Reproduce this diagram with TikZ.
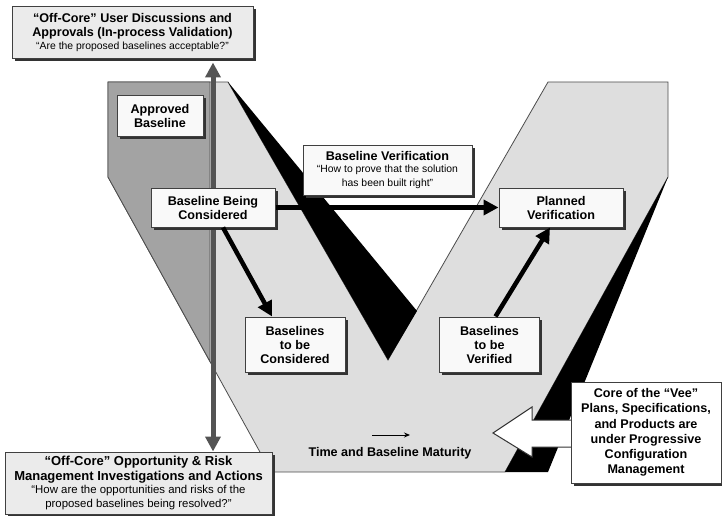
\documentclass[tikz,border=0pt]{standalone}
\usepackage{fontspec}
\setmainfont{Liberation Sans}
\usetikzlibrary{arrows.meta,shadows}
\definecolor{veegray}{gray}{0.87}
\definecolor{armgray}{gray}{0.64}
\definecolor{boxfill}{gray}{0.975}
\definecolor{offfill}{gray}{0.92}
\definecolor{rodgray}{gray}{0.33}
\newcommand\bigtxt{\fontsize{12.6}{14}\selectfont\bfseries}
\newcommand\smalltxt{\fontsize{10.4}{12}\selectfont\mdseries}
\newcommand\smallertxt{\fontsize{11.4}{12}\selectfont\mdseries}
\tikzset{
  labelbox/.style={draw=black!75, line width=1pt, fill=boxfill, align=center,
    inner sep=1pt, font=\bigtxt,
    drop shadow={shadow xshift=2.5pt, shadow yshift=-2.5pt, opacity=1, fill=black!80}},
  offbox/.style={labelbox, fill=offfill},
  veeline/.style={draw=black!70, line width=0.8pt},
  bigarrow/.style={line width=4.5pt, -{Triangle[length=15pt,width=15pt]}},
  rod/.style={rodgray, line width=5pt, {Triangle[length=15pt,width=15pt]}-{Triangle[length=15pt,width=15pt]}}
}
\begin{document}
\begin{tikzpicture}[x=1pt,y=-1pt]
  \useasboundingbox (0,0) rectangle (722,516);
  % the vee
  \filldraw[veeline, fill=veegray] (108,82) -- (228,82) -- (388,360) -- (548,82)
    -- (668,82) -- (668,177) -- (505,472) -- (271,472) -- (108,177) -- cycle;
  \filldraw[veeline, fill=armgray] (108,82) -- (210,82) -- (210,361.5) -- (108,177) -- cycle;
  \fill[black] (228,82) -- (417,311) -- (388,360) -- cycle;
  \fill[black] (668,177) -- (548,472) -- (505,472) -- cycle;

  % off-core boxes
  \node[offbox, minimum width=241pt, minimum height=52pt] (userbox) at (132.5,33)
    {“Off-Core” User Discussions and\\Approvals (In-process Validation)\\[-1pt]
     \smalltxt “Are the proposed baselines acceptable?”};
  \node[offbox, minimum width=267pt, minimum height=62pt,
    font=\fontsize{13}{14}\selectfont\bfseries] (riskbox) at (138.5,483)
    {“Off-Core” Opportunity \& Risk\\[1pt]Management Investigations and Actions\\[-1pt]
     \smallertxt “How are the opportunities and risks of the\\
     \smallertxt proposed baselines being resolved?”};
  \coordinate (vx) at (213,0);
  \draw[rod] ([yshift=-3pt]userbox.south -| vx) -- (riskbox.north -| vx);

  % baselines
  \node[labelbox, minimum width=86pt, minimum height=40pt] (approved) at (160,116)
    {Approved\\Baseline};
  \node[labelbox, minimum width=124pt, minimum height=39pt] (being) at (213,207.5)
    {Baseline Being\\Considered};
  \node[labelbox, minimum width=124pt, minimum height=39pt] (planned) at (561,207.5)
    {Planned\\Verification};
  \node[labelbox, minimum width=169pt, minimum height=50pt] (verif) at (387.5,170)
    {Baseline Verification\\[-2pt]\smalltxt “How to prove that the solution\\
     \smalltxt has been built right”};
  \foreach \x/\n/\t in {295/tobecons/Considered, 489.5/tobever/Verified} {
    \node[labelbox, minimum width=100pt, minimum height=55pt] (\n) at (\x,344.5)
      {Baselines\\to be\\\t};
  }
  \draw[bigarrow] (being) -- (planned);
  \draw[bigarrow] ([xshift=10pt]being.south) -- ([xshift=-23pt]tobecons.north);
  \draw[bigarrow] ([xshift=6pt]tobever.north) -- ([xshift=-11pt]planned.south);

  % time
  \node[font=\bigtxt] (time) at (390,453) {Time and Baseline Maturity};
  \coordinate (t0) at (372,435);
  \coordinate (t1) at (410,435);
  \draw[line width=0.9pt, -{Stealth[length=6pt,width=5pt]}] (t0) -- (t1);

  % core of the vee
  \filldraw[draw=black!80, line width=1pt, fill=white] (493,433) -- (532,407) -- (532,420)
    -- (574,420) -- (574,447) -- (532,447) -- (532,457) -- cycle;
  \node[labelbox, fill=white, minimum width=150pt, minimum height=101pt,
    font=\fontsize{12.6}{15.3}\selectfont\bfseries] (core) at (646,432.5)
    {Core of the “Vee”\\Plans, Specifications,\\and Products are\\under Progressive\\
     Configuration\\Management};
\end{tikzpicture}
\end{document}
